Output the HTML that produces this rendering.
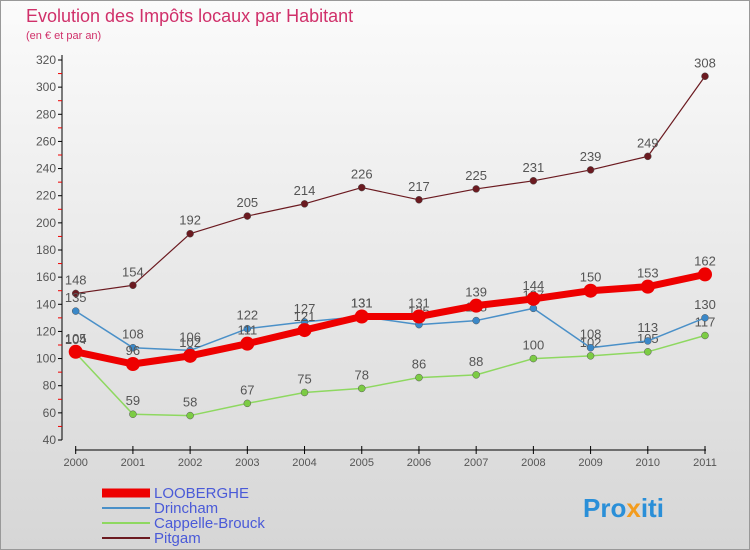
<!DOCTYPE html>
<html><head><meta charset="utf-8"><style>
body{margin:0;width:750px;height:550px;overflow:hidden;font-family:"Liberation Sans",sans-serif;}
svg{display:block}
</style></head><body>
<svg id="chart" width="750" height="550">
<defs><linearGradient id="bg" x1="0" y1="0" x2="0" y2="1"><stop offset="0" stop-color="#fbfbfb"/><stop offset="1" stop-color="#d6d6d6"/></linearGradient></defs>
<rect x="0.5" y="0.5" width="749" height="549" fill="url(#bg)" stroke="#999"/>
<text x="26" y="22" font-size="18" fill="#d0306a">Evolution des Impôts locaux par Habitant</text>
<text x="26" y="39" font-size="11" fill="#d0306a">(en € et par an)</text>
<g id="axes"></g><g id="series"></g><g id="legend"></g>
<text x="583" y="517" font-size="26" font-weight="bold"><tspan fill="#2a8fd8">Pro</tspan><tspan fill="#f39c1e">x</tspan><tspan fill="#2a8fd8">iti</tspan></text>
</svg>
<script>
const years=["2000","2001","2002","2003","2004","2005","2006","2007","2008","2009","2010","2011"];
const yTicks=[40,60,80,100,120,140,160,180,200,220,240,260,280,300,320];
const seriesNames=["LOOBERGHE","Drincham","Cappelle-Brouck","Pitgam"];
const looberghe=[105,96,102,111,121,131,131,139,144,150,153,162];
const drincham=[135,108,106,122,127,131,125,128,137,108,113,130];
const cappelle=[104,59,58,67,75,78,86,88,100,102,105,117];
const pitgam=[148,154,192,205,214,226,217,225,231,239,249,308];
const NS="http://www.w3.org/2000/svg";
function mk(t,a,p){const e=document.createElementNS(NS,t);for(const k in a)e.setAttribute(k,a[k]);p.appendChild(e);return e;}
const x=i=>75.7+i*(705-75.7)/11;
const y=v=>440-(v-40)*380/280;
const ax=document.getElementById('axes');
let l=mk('line',{x1:62,y1:55,x2:62,y2:440,stroke:'#000'},ax);

l=mk('line',{x1:75,y1:450,x2:706,y2:450,stroke:'#000'},ax);

yTicks.forEach((v,i)=>{
 mk('line',{x1:58,x2:62,y1:y(v),y2:y(v),stroke:'#000'},ax);
 if(i<yTicks.length-1)mk('line',{x1:58,x2:62,y1:y(v+10),y2:y(v+10),stroke:'#e00'},ax);
 const t=mk('text',{x:56,y:y(v)+4,'font-size':12,'text-anchor':'end',fill:'#555'},ax);t.textContent=v;
 
});
years.forEach((yr,i)=>{
 mk('line',{x1:x(i),x2:x(i),y1:446,y2:454,stroke:'#000'},ax);
 const t=mk('text',{x:x(i),y:466,'font-size':11,'text-anchor':'middle',fill:'#555'},ax);t.textContent=yr;
 
});
const sg=document.getElementById('series');
const defs=[[pitgam,'#6b1a20',1.2,3.5,'pitgam'],[cappelle,'#8ed860',1.5,3.5,'cappelle-brouck'],[drincham,'#4a90c8',1.5,3.5,'drincham'],[looberghe,'#ee0000',7,7,'looberghe']];
const fills={pitgam:'#6b1a20','cappelle-brouck':'#7ccc44',drincham:'#3a88c8',looberghe:'#ee0000'};
defs.forEach(([d,c,w,r,n])=>{
 const g=mk('g',{},sg);
 const p=mk('polyline',{points:d.map((v,i)=>x(i)+','+y(v)).join(' '),fill:'none',stroke:c,'stroke-width':w,'stroke-linejoin':'round'},g);
 
 d.forEach((v,i)=>{
  const m=mk('circle',{cx:x(i),cy:y(v),r:r,fill:fills[n],stroke:n==='looberghe'?'none':'#555','stroke-width':0.5},g);
  
  const t=mk('text',{x:x(i),y:y(v)-9,'font-size':13,'text-anchor':'middle',fill:'#555'},g);t.textContent=v;
  
 });
});
const lg=document.getElementById('legend');
const lc=['#ee0000','#4a90c8','#8ed860','#6b1a20'],lw=[9,2,2,2];
seriesNames.forEach((s,i)=>{
 const yy=493+i*15;
 const g=mk('g',{},lg);
 mk('line',{x1:102,x2:150,y1:yy,y2:yy,stroke:lc[i],'stroke-width':lw[i]},g);
 const t=mk('text',{x:154,y:yy+5,'font-size':15,fill:'#4a5ad8'},g);t.textContent=s;
});
</script>
</body></html>
